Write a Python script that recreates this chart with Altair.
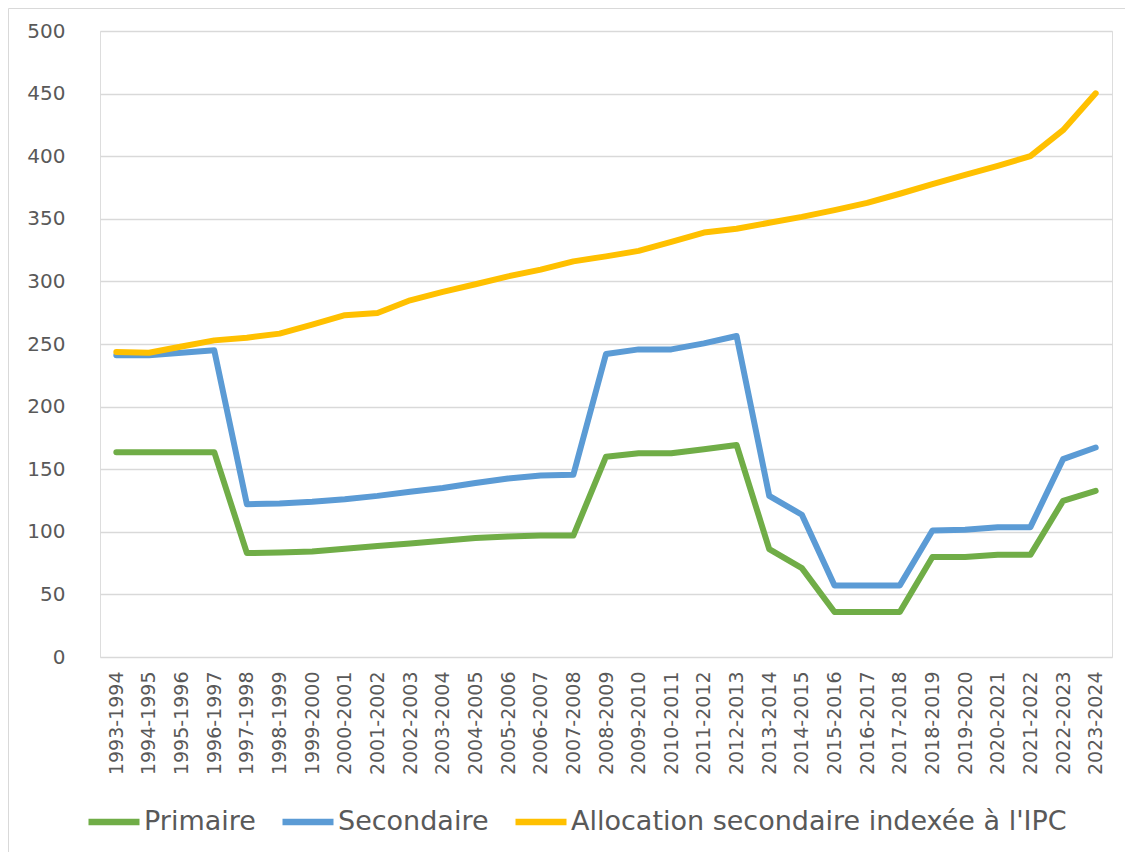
import altair as alt
import pandas as pd

categories = [
    "1993-1994", "1994-1995", "1995-1996", "1996-1997", "1997-1998", "1998-1999",
    "1999-2000", "2000-2001", "2001-2002", "2002-2003", "2003-2004", "2004-2005",
    "2005-2006", "2006-2007", "2007-2008", "2008-2009", "2009-2010", "2010-2011",
    "2011-2012", "2012-2013", "2013-2014", "2014-2015", "2015-2016", "2016-2017",
    "2017-2018", "2018-2019", "2019-2020", "2020-2021", "2021-2022", "2022-2023",
    "2023-2024",
]
primaire = [163.6, 163.6, 163.6, 163.6, 83, 83.5, 84.3, 86.4, 88.6, 90.7, 92.8,
            95, 96.3, 97, 97, 160, 162.8, 162.8, 166, 169.4, 86.2, 71, 35.9, 35.9,
            35.9, 79.8, 79.8, 81.6, 81.6, 124.7, 132.7]
secondaire = [241, 241, 243, 245, 122, 122.6, 124, 126, 128.7, 132, 135, 139,
              142.5, 145, 145.5, 242, 245.7, 245.7, 250.5, 256.4, 128.7, 113.6,
              57.2, 57.2, 57.2, 101, 101.6, 103.7, 103.7, 158, 167.3]
allocation = [243.6, 243, 248, 252.9, 255, 258.3, 265.5, 273, 274.8, 284.9, 291.6,
              297.7, 304, 309.4, 316, 320, 324.4, 331.6, 339, 342, 346.8, 351.5,
              356.9, 362.7, 370, 377.7, 385, 392.3, 400, 420.8, 450.2]
series_names = ["Primaire", "Secondaire", "Allocation secondaire indexée à l'IPC"]
series_colors = ["#70AD47", "#5B9BD5", "#FFC000"]
y_ticks = [0, 50, 100, 150, 200, 250, 300, 350, 400, 450, 500]

rows = []
for name, vals in zip(series_names, [primaire, secondaire, allocation]):
    for c, v in zip(categories, vals):
        rows.append({"periode": c, "valeur": v, "serie": name})
df = pd.DataFrame(rows)

FONT = "DejaVu Sans"
GREY = "#595959"

lines = alt.Chart(df).mark_line(strokeWidth=6, strokeCap="round", strokeJoin="round").encode(
    x=alt.X("periode:N", sort=categories, title=None,
            scale=alt.Scale(type="point", padding=0.5),
            axis=alt.Axis(labelAngle=270, labelFontSize=19, labelFont=FONT,
                          labelColor=GREY, ticks=False, domain=False, grid=False,
                          labelPadding=14, labelLimit=0)),
    y=alt.Y("valeur:Q", title=None,
            scale=alt.Scale(domain=[0, 500], nice=False),
            axis=alt.Axis(values=y_ticks, labelFontSize=20, labelFont=FONT,
                          labelColor=GREY, ticks=False, domain=False,
                          gridColor="#d9d9d9", gridWidth=1.5, labelPadding=35)),
    color=alt.Color("serie:N", sort=series_names,
                    scale=alt.Scale(domain=series_names, range=series_colors),
                    legend=alt.Legend(title=None, orient="none", direction="horizontal",
                                      legendX=-15, legendY=762, symbolType="stroke",
                                      symbolSize=2601, symbolStrokeWidth=6.5,
                                      labelFontSize=27, labelFont=FONT, labelColor=GREY,
                                      labelOffset=1, columnPadding=13, labelLimit=0,
                                      padding=0)),
    detail="serie:N",
)

frame_df = pd.DataFrame({"k": [0]})
frame = alt.Chart(frame_df).mark_rect(filled=False, stroke="#d9d9d9", strokeWidth=1).encode(
    x=alt.value(-91.5), x2=alt.value(1100), y=alt.value(-22.5), y2=alt.value(900)
)

chart = alt.layer(frame, lines).properties(
    width=1012, height=626,
    autosize=alt.AutoSizeParams(type="none"),
    padding={"left": 92, "top": 23, "right": 13, "bottom": 195},
).configure_view(stroke=None).configure(background="white")

chart.save("out.html", embed_options={"renderer": "svg", "actions": False})
